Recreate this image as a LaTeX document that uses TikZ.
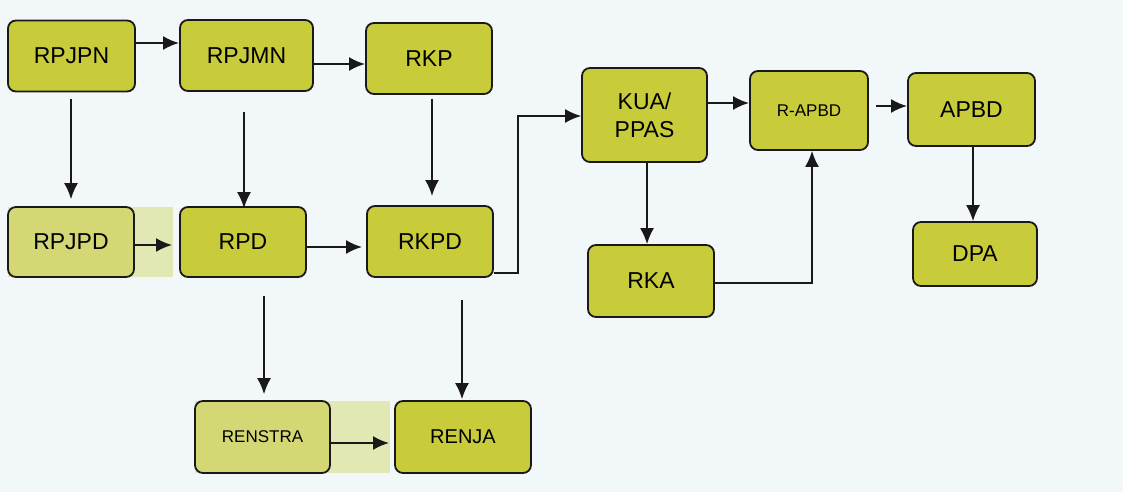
\documentclass[tikz,border=0pt]{standalone}
\usepackage{fontspec}
\setmainfont{Liberation Sans}
\usetikzlibrary{arrows.meta,calc}
\definecolor{BackClr}{HTML}{F2F8FA}
\definecolor{BoxClr}{HTML}{C8CB3A}
\definecolor{PaleClr}{HTML}{D4D874}
\definecolor{StripClr}{HTML}{E2E8B4}

\begin{document}
\begin{tikzpicture}[x=1pt,y=-1pt,
  box/.style={draw=black!90,line width=1.8pt,rounded corners=8pt,fill=BoxClr,
    minimum width=127pt,minimum height=71pt,inner sep=0pt,align=center,
    font=\fontsize{23}{28}\selectfont},
  palebox/.style={box,fill=PaleClr},
  small/.style={font=\fontsize{17}{22}\selectfont},
  arr/.style={-{Latex[length=16pt,width=14pt]},line width=2.2pt,black!90},
  thin/.style={arr,line width=1.6pt}]
\fill[BackClr] (0,0) rectangle (1123,492);
\fill[StripClr] (8,207) rectangle (173,277);
\fill[StripClr] (195,401) rectangle (390,473);

\node[box] (RPJPN) at (71.5,56) {RPJPN};
\node[box,minimum width=133pt] (RPJMN) at (246.5,55.5) {RPJMN};
\node[box,minimum width=126pt] (RKP) at (429,58.5) {RKP};
\node[palebox,minimum width=126pt,minimum height=70pt] (RPJPD) at (71,242) {RPJPD};
\node[box,minimum width=126pt,minimum height=70pt] (RPD) at (243,242) {RPD};
\node[box,minimum width=126pt] (RKPD) at (430,241.5) {RKPD};
\node[palebox,small,minimum width=135pt,minimum height=72pt] (RENSTRA) at (262.5,437) {RENSTRA};
\node[box,minimum width=136pt,minimum height=72pt,font=\fontsize{20}{24}\selectfont] (RENJA) at (463,437) {RENJA};
\node[box,minimum width=125pt,minimum height=94pt] (KUA) at (644.5,115) {KUA/\\PPAS};
\node[box,small,minimum width=118pt,minimum height=79pt] (RAPBD) at (809,110.5) {R-APBD};
\node[box,minimum height=73pt] (APBD) at (971.5,109.5) {APBD};
\node[box,minimum width=126pt,minimum height=72pt] (RKA) at (651,281) {RKA};
\node[box,minimum width=124pt,minimum height=64pt] (DPA) at (975,254) {DPA};

\coordinate (pnout) at ([yshift=13pt]RPJPN.east);
\coordinate (mnout) at ([yshift=-8.5pt]RPJMN.east);
\draw[arr] (pnout) -- (RPJMN.west |- pnout);
\draw[arr] (mnout) -- (RKP.west |- mnout);
\draw[thin,shorten <=7pt,shorten >=7pt] ([xshift=-0.5pt]RPJPN.south) -- (RPJPD.north);
\draw[thin,shorten <=20pt,shorten >=-2pt] ([xshift=-2.5pt]RPJMN.south) -- ([xshift=1pt]RPD.north);
\draw[arr,shorten <=4pt,shorten >=9pt] ([xshift=3pt]RKP.south) -- ([xshift=2pt]RKPD.north);
\draw[arr,shorten <=-2pt,shorten >=7pt] ([yshift=-3pt]RPJPD.east) -- ([yshift=-3pt]RPD.west);
\draw[arr,shorten >=4pt] ([yshift=-5pt]RPD.east) -- ([yshift=-5.5pt]RKPD.west);
\draw[thin] ([yshift=-31.5pt]RKPD.east) -- ++(24,0) |- ([yshift=-1pt]KUA.west);
\draw[thin,shorten <=18pt,shorten >=6pt] ([xshift=1.5pt]RENSTRA.north |- RPD.south) -- ([xshift=1.5pt]RENSTRA.north);
\draw[thin,shorten <=22pt,shorten >=1pt] ([xshift=-1pt]RENJA.north |- RKPD.south) -- ([xshift=-1pt]RENJA.north);
\draw[arr,shorten >=5pt] ([yshift=-6pt]RENSTRA.east) -- ([yshift=-6pt]RENJA.west);
\draw[arr] ([yshift=12pt]KUA.east) -- ([yshift=7.5pt]RAPBD.west);
\draw[arr,shorten <=7pt] ([yshift=4.5pt]RAPBD.east) -- ([yshift=3.5pt]APBD.west);
\draw[thin] ([xshift=2.5pt]KUA.south) -- ([xshift=-4pt]RKA.north);
\draw[thin] ([yshift=-2pt]RKA.east) -| ([xshift=3pt]RAPBD.south);
\draw[thin] ([xshift=1.5pt]APBD.south) -- ([xshift=-2pt]DPA.north);
\end{tikzpicture}
\end{document}
